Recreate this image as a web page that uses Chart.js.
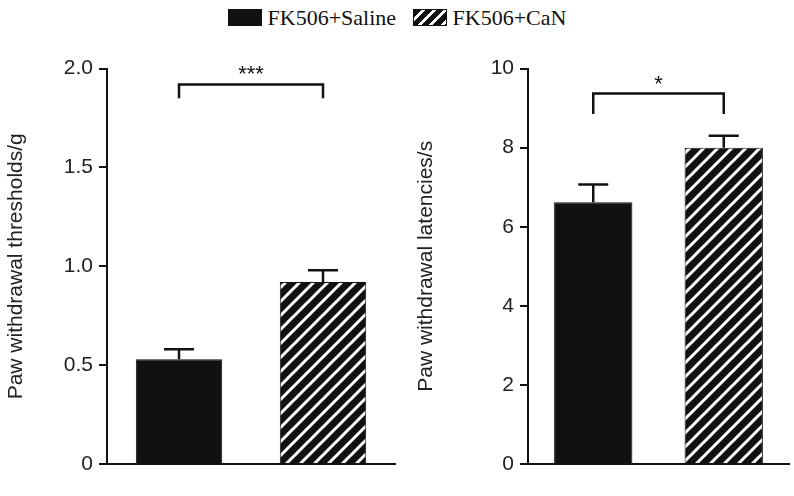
<!DOCTYPE html>
<html>
<head>
<meta charset="utf-8">
<script src="https://cdn.jsdelivr.net/npm/chart.js@4"></script>
<style>
  body { margin: 0; width: 794px; height: 496px; background: #fff; position: relative; overflow: hidden; }
  .legend { position: absolute; top: 5px; left: 0; width: 794px; text-align: center; font-family: "Liberation Serif", serif; font-size: 22px; color: #111; }
  .legend span.sw { display: inline-block; width: 34px; height: 17px; vertical-align: -1px; margin: 0 6px 0 0; }
  .solid { background: #111; }
  .hatch { background: repeating-linear-gradient(135deg, #111 0 5px, #fff 5px 8px); border: 1px solid #111; box-sizing: border-box; }
  canvas { position: absolute; }
</style>
</head>
<body>
<div class="legend"><span class="sw solid"></span>FK506+Saline &nbsp;&nbsp;<span class="sw hatch"></span>FK506+CaN</div>
<div style="position:absolute;left:0;top:50px;width:400px;height:446px"><canvas id="c1"></canvas></div>
<div style="position:absolute;left:410px;top:50px;width:384px;height:446px"><canvas id="c2"></canvas></div>
<script>
// ===== DATA =====
const groups = ['FK506+Saline', 'FK506+CaN'];
const thresholds = [0.53, 0.92];
const thresholdErr = [0.05, 0.06];
const latencies = [6.62, 8.0];
const latencyErr = [0.45, 0.3];
const thresholdTicks = ['0', '0.5', '1.0', '1.5', '2.0'];
const latencyTicks = ['0', '2', '4', '6', '8', '10'];

function hatchPattern() {
    const p = document.createElement('canvas');
    p.width = 14; p.height = 14;
    const g = p.getContext('2d');
    g.fillStyle = '#111';
    g.fillRect(0, 0, 14, 14);
    g.strokeStyle = '#fff';
    g.lineWidth = 3;
    g.beginPath();
    g.moveTo(-2, 16); g.lineTo(16, -2);
    g.moveTo(-9, 9); g.lineTo(9, -9);
    g.moveTo(5, 23); g.lineTo(23, 5);
    g.stroke();
    return document.getElementById('c1').getContext('2d').createPattern(p, 'repeat');
}

// error bars + significance bracket
const extras = {
    id: 'extras',
    afterDatasetsDraw(chart, args, opts) {
        const ctx = chart.ctx, y = chart.scales.y;
        const meta = chart.getDatasetMeta(0);
        ctx.save();
        ctx.strokeStyle = '#111';
        ctx.lineWidth = 2.5;
        meta.data.forEach((bar, i) => {
            const top = y.getPixelForValue(opts.values[i] + opts.errs[i]);
            ctx.beginPath();
            ctx.moveTo(bar.x, bar.y);
            ctx.lineTo(bar.x, top);
            ctx.moveTo(bar.x - 15, top);
            ctx.lineTo(bar.x + 15, top);
            ctx.stroke();
        });
        const bt = y.getPixelForValue(opts.bracket[0]);
        const bb = y.getPixelForValue(opts.bracket[1]);
        const x0 = meta.data[0].x, x1 = meta.data[1].x;
        ctx.beginPath();
        ctx.moveTo(x0, bb); ctx.lineTo(x0, bt); ctx.lineTo(x1, bt); ctx.lineTo(x1, bb);
        ctx.stroke();
        ctx.fillStyle = '#111';
        ctx.font = '22px "Liberation Sans", Arial';
        ctx.textAlign = 'center';
        ctx.textBaseline = 'bottom';
        ctx.fillText(opts.stars, (x0 + x1) / 2, bt + 2);
        ctx.restore();
    }
};

function makeChart(id, values, errs, max, step, tickLabels, title, bracket, stars, yWidth) {
    const font = { family: '"Liberation Sans", Arial', size: 21 };
    return new Chart(document.getElementById(id), {
        type: 'bar',
        data: {
            labels: groups,
            datasets: [{
                data: values,
                backgroundColor: ['#111', hatchPattern()],
                borderColor: '#111',
                borderWidth: 1,
                barPercentage: 0.6,
                categoryPercentage: 1
            }]
        },
        options: {
            responsive: true,
            maintainAspectRatio: false,
            animation: false,
            layout: { padding: { top: 17, bottom: 24, right: 5 } },
            plugins: {
                legend: { display: false },
                tooltip: { enabled: false },
                extras: { values: values, errs: errs, bracket: bracket, stars: stars }
            },
            scales: {
                x: {
                    offset: true,
                    ticks: { display: false },
                    grid: { display: false },
                    border: { color: '#111', width: 2 }
                },
                y: {
                    min: 0, max: max,
                    ticks: {
                        stepSize: step,
                        color: '#222',
                        font: font,
                        padding: 6,
                        callback: (v, i) => tickLabels[i]
                    },
                    grid: { drawOnChartArea: false, tickLength: 8, color: '#111', lineWidth: 2 },
                    border: { color: '#111', width: 2 },
                    title: { display: true, text: title, color: '#222', font: font, padding: 4 },
                    afterFit: s => { s.width = yWidth; }
                }
            }
        },
        plugins: [extras]
    });
}

makeChart('c1', thresholds, thresholdErr, 2.0, 0.5, thresholdTicks,
    'Paw withdrawal thresholds/g', [1.92, 1.85], '***', 107);
makeChart('c2', latencies, latencyErr, 10, 2, latencyTicks,
    'Paw withdrawal latencies/s', [9.37, 8.85], '*', 118);
</script>
</body>
</html>
